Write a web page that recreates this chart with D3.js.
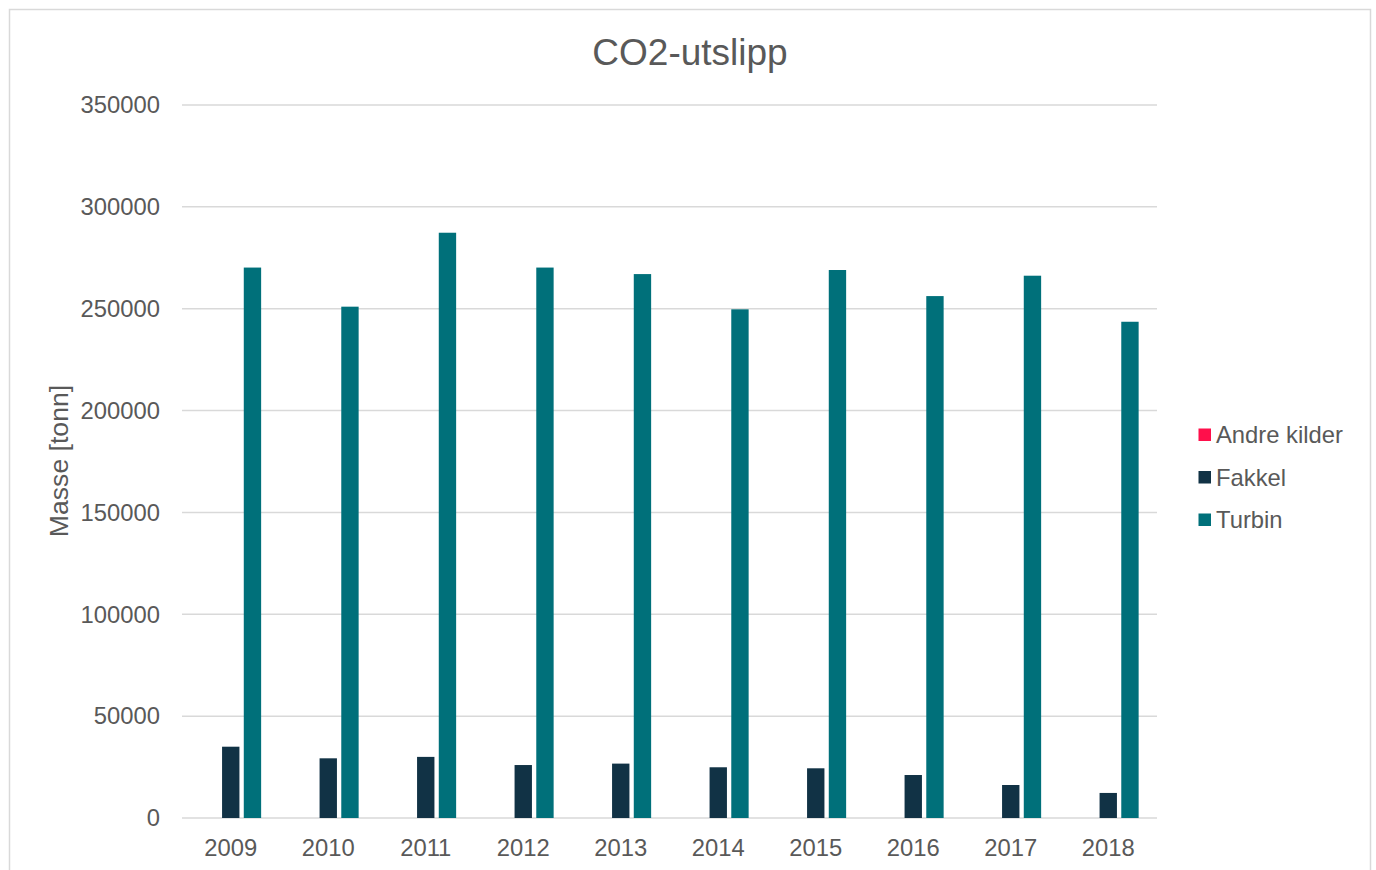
<!DOCTYPE html>
<html>
<head>
<meta charset="utf-8">
<script src="https://cdn.jsdelivr.net/npm/d3@7"></script>
<style>
  html, body { margin: 0; padding: 0; background: #ffffff; }
  svg { display: block; font-family: "Liberation Sans", Arial, sans-serif; }
</style>
</head>
<body>
<svg id="chart" width="1376" height="870"></svg>
<script>
const years = ["2009","2010","2011","2012","2013","2014","2015","2016","2017","2018"];
const seriesNames = ["Andre kilder", "Fakkel", "Turbin"];
const andreKilder = [0, 0, 0, 0, 0, 0, 0, 0, 0, 0];
const fakkel = [35000, 29300, 30000, 26000, 26700, 24900, 24400, 21100, 16200, 12300];
const turbin = [270200, 251000, 287300, 270200, 267000, 249700, 269000, 256200, 266200, 243600];
const yTicks = [0, 50000, 100000, 150000, 200000, 250000, 300000, 350000];
const colors = ["#FF0F4B", "#113245", "#00707A"];

const seriesValues = [andreKilder, fakkel, turbin];

const svg = d3.select("#chart");
const textColor = "#595959";
const gridColor = "#d9d9d9";

// outer chart border
svg.append("rect")
  .attr("x", 9.5).attr("y", 9.5)
  .attr("width", 1361).attr("height", 900)
  .attr("fill", "none").attr("stroke", gridColor).attr("stroke-width", 1.5);

const plot = { left: 182, right: 1157, top: 105, bottom: 818 };

const x0 = d3.scaleBand().domain(years).range([plot.left, plot.right]).padding(0);
const x1 = d3.scaleBand().domain(seriesNames).range([0, x0.bandwidth()])
  .paddingInner(0.2).paddingOuter(0.846);
const y = d3.scaleLinear().domain([0, 350000]).range([plot.bottom, plot.top]);

// gridlines
svg.append("g")
  .selectAll("line")
  .data(yTicks)
  .join("line")
  .attr("x1", plot.left).attr("x2", plot.right)
  .attr("y1", d => y(d)).attr("y2", d => y(d))
  .attr("stroke", gridColor).attr("stroke-width", 1.5);

// y tick labels
svg.append("g")
  .selectAll("text")
  .data(yTicks)
  .join("text")
  .attr("x", 160)
  .attr("y", d => y(d))
  .attr("dy", "0.35em")
  .attr("text-anchor", "end")
  .attr("fill", textColor)
  .style("font-size", "23.8px")
  .text(d => String(d));

// bars
const groups = svg.append("g")
  .selectAll("g")
  .data(years)
  .join("g")
  .attr("transform", d => `translate(${x0(d)},0)`);

groups.selectAll("rect")
  .data((d, i) => seriesNames.map((s, k) => ({ s, v: seriesValues[k][i], k })))
  .join("rect")
  .attr("x", d => x1(d.s))
  .attr("width", x1.bandwidth())
  .attr("y", d => y(d.v))
  .attr("height", d => y(0) - y(d.v))
  .attr("fill", d => colors[d.k]);

// x tick labels
svg.append("g")
  .selectAll("text")
  .data(years)
  .join("text")
  .attr("x", d => x0(d) + x0.bandwidth() / 2)
  .attr("y", 856)
  .attr("text-anchor", "middle")
  .attr("fill", textColor)
  .style("font-size", "23.8px")
  .text(d => d);

// title
svg.append("text")
  .attr("x", 690).attr("y", 65)
  .attr("text-anchor", "middle")
  .attr("fill", textColor)
  .style("font-size", "37px")
  .text("CO2-utslipp");

// y axis title
svg.append("text")
  .attr("transform", "translate(68,461) rotate(-90)")
  .attr("text-anchor", "middle")
  .attr("fill", textColor)
  .style("font-size", "26.6px")
  .text("Masse [tonn]");

// legend
const legend = svg.append("g")
  .selectAll("g")
  .data(seriesNames)
  .join("g")
  .attr("transform", (d, i) => `translate(1198.5,${428.5 + i * 42.5})`);

legend.append("rect")
  .attr("width", 12.5).attr("height", 12.5)
  .attr("fill", (d, i) => colors[i]);

legend.append("text")
  .attr("x", 17.5).attr("y", 6.25)
  .attr("dy", "0.35em")
  .attr("fill", textColor)
  .style("font-size", "23.8px")
  .text(d => d);
</script>
</body>
</html>
